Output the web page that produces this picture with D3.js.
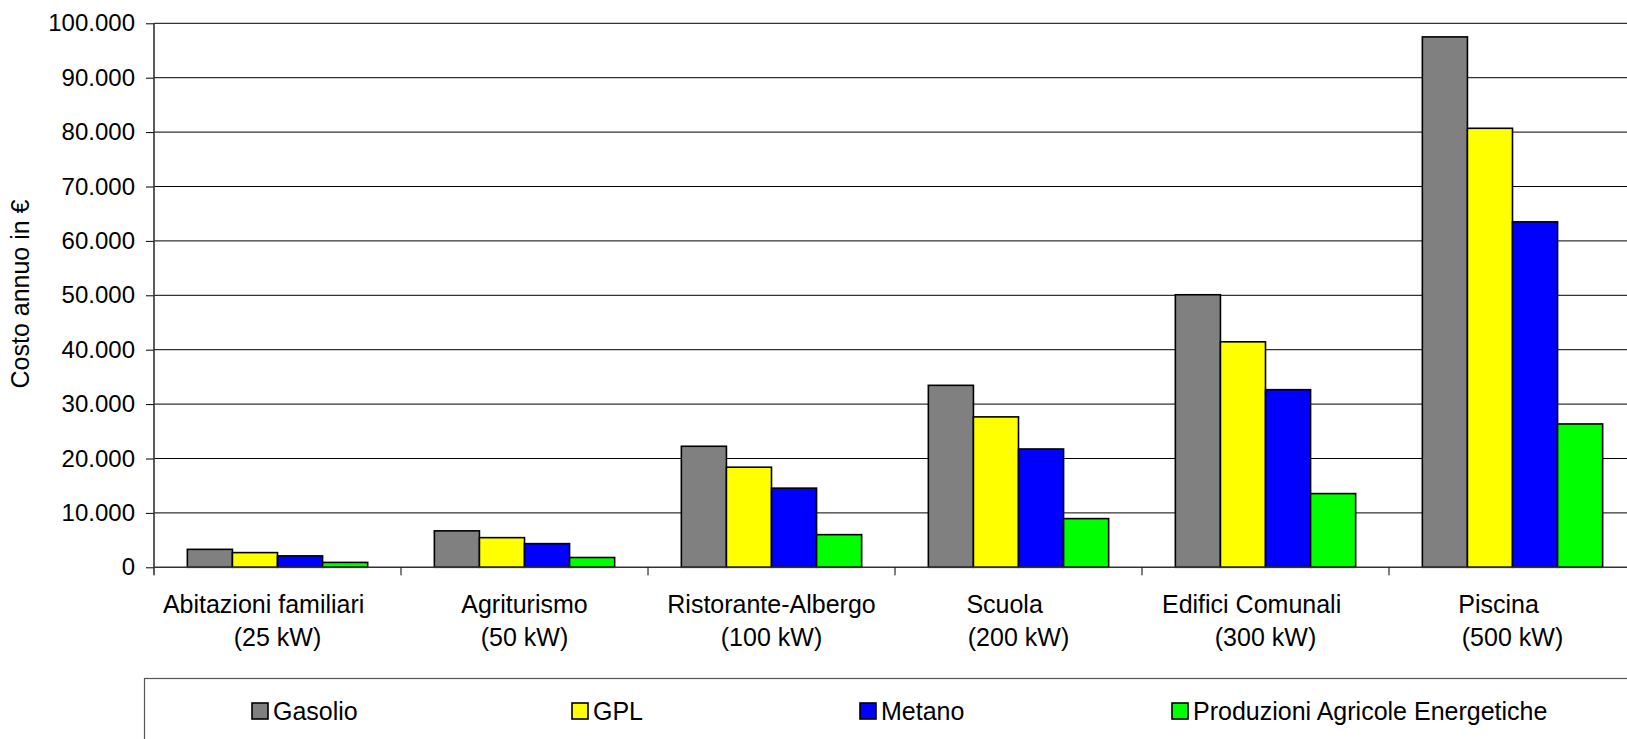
<!DOCTYPE html>
<html>
<head>
<meta charset="utf-8">
<script src="https://cdn.jsdelivr.net/npm/d3@7/dist/d3.min.js"></script>
<style>
  body { margin: 0; background: #fff; }
  svg { display: block; font-family: "Liberation Sans", Arial, sans-serif; }
</style>
</head>
<body>
<script>
// Data
const categories = ["Abitazioni familiari", "Agriturismo", "Ristorante-Albergo", "Scuola", "Edifici Comunali", "Piscina"];
const powers = ["(25 kW)", "(50 kW)", "(100 kW)", "(200 kW)", "(300 kW)", "(500 kW)"];
const seriesNames = ["Gasolio", "GPL", "Metano", "Produzioni Agricole Energetiche"];
const gasolio = [3300, 6700, 22250, 33450, 50100, 97500];
const gpl = [2700, 5450, 18400, 27650, 41450, 80700];
const metano = [2100, 4350, 14550, 21750, 32650, 63500];
const produzioni = [900, 1800, 6000, 8950, 13550, 26350];
const yTicks = [0, 10000, 20000, 30000, 40000, 50000, 60000, 70000, 80000, 90000, 100000];
const yTitle = "Costo annuo in €";

const seriesValues = [gasolio, gpl, metano, produzioni];
const colors = ["#808080", "#ffff00", "#0000ff", "#00ff00"];

const W = 1627, H = 739;
const plot = { left: 154, right: 1636, top: 23.3, bottom: 567.3 };
const tickFont = 24;
const labelFont = 25;

const svg = d3.select("body").append("svg")
    .attr("width", W)
    .attr("height", H);

svg.append("rect").attr("width", W).attr("height", H).attr("fill", "#fff");

// scales
const x0 = d3.scaleBand()
    .domain(categories)
    .range([plot.left, plot.right])
    .padding(0);

const x1 = d3.scaleBand()
    .domain(seriesNames)
    .range([0, x0.bandwidth()])
    .paddingInner(0)
    .paddingOuter(0.74);

const y = d3.scaleLinear()
    .domain([0, 100000])
    .range([plot.bottom, plot.top]);

const itFormat = d3.formatLocale({ decimal: ",", thousands: ".", grouping: [3], currency: ["€", ""] }).format(",d");

// gridlines
svg.append("g")
    .selectAll("line")
    .data(yTicks.filter(d => d > 0))
    .enter()
    .append("line")
    .attr("x1", plot.left)
    .attr("x2", W)
    .attr("y1", d => y(d))
    .attr("y2", d => y(d))
    .attr("stroke", "#000")
    .attr("stroke-width", 1);

// y axis
const yAxis = svg.append("g")
    .attr("transform", `translate(${plot.left},0)`)
    .call(d3.axisLeft(y).tickValues(yTicks).tickFormat(itFormat).tickSize(8).tickPadding(11));
yAxis.select(".domain").remove();
yAxis.selectAll(".tick line").attr("stroke", "#000");
yAxis.selectAll(".tick text")
    .attr("font-size", tickFont)
    .attr("font-family", "'Liberation Sans', Arial, sans-serif")
    .attr("fill", "#000");

// bars
const groups = svg.append("g")
    .selectAll("g")
    .data(categories)
    .enter()
    .append("g")
    .attr("transform", d => `translate(${x0(d)},0)`);

groups.selectAll("rect")
    .data((c, i) => seriesNames.map((s, j) => ({ s, j, v: seriesValues[j][i] })))
    .enter()
    .append("rect")
    .attr("x", d => x1(d.s))
    .attr("y", d => y(d.v))
    .attr("width", x1.bandwidth())
    .attr("height", d => y(0) - y(d.v))
    .attr("fill", d => colors[d.j])
    .attr("stroke", "#000")
    .attr("stroke-width", 1.6);

// axis lines
svg.append("line")
    .attr("x1", plot.left).attr("x2", plot.left)
    .attr("y1", plot.top).attr("y2", plot.bottom + 8)
    .attr("stroke", "#333").attr("stroke-width", 1.6);
svg.append("line")
    .attr("x1", plot.left).attr("x2", W)
    .attr("y1", plot.bottom).attr("y2", plot.bottom)
    .attr("stroke", "#333").attr("stroke-width", 1.6);

// x ticks at category boundaries
svg.append("g")
    .selectAll("line")
    .data(categories.slice(1))
    .enter()
    .append("line")
    .attr("x1", d => x0(d)).attr("x2", d => x0(d))
    .attr("y1", plot.bottom).attr("y2", plot.bottom + 8)
    .attr("stroke", "#000").attr("stroke-width", 1);

// category labels (first line carries trailing spaces like the original)
const trailing = [4, 0, 0, 4, 4, 4];
const labels = svg.append("g")
    .selectAll("text")
    .data(categories)
    .enter()
    .append("text")
    .attr("text-anchor", "middle")
    .attr("font-size", labelFont)
    .attr("fill", "#000");
labels.append("tspan")
    .attr("x", d => x0(d) + x0.bandwidth() / 2)
    .attr("y", 613)
    .text((d, i) => d + "\u00a0".repeat(trailing[i]));
labels.append("tspan")
    .attr("x", d => x0(d) + x0.bandwidth() / 2)
    .attr("y", 646)
    .text((d, i) => powers[i]);

// y axis title
svg.append("text")
    .attr("transform", "translate(29,294) rotate(-90)")
    .attr("text-anchor", "middle")
    .attr("font-size", labelFont)
    .attr("fill", "#000")
    .text(yTitle);

// legend
svg.append("rect")
    .attr("x", 144.5).attr("y", 678.5)
    .attr("width", 1600).attr("height", 120)
    .attr("fill", "#fff")
    .attr("stroke", "#555").attr("stroke-width", 1.2);

const legendX = [252, 572, 860, 1172];
const items = svg.append("g")
    .selectAll("g")
    .data(seriesNames)
    .enter()
    .append("g")
    .attr("transform", (d, i) => `translate(${legendX[i]},703)`);
items.append("rect")
    .attr("width", 16).attr("height", 16)
    .attr("fill", (d, i) => colors[i])
    .attr("stroke", "#000").attr("stroke-width", 1.6);
items.append("text")
    .attr("x", 21)
    .attr("y", 16.5)
    .attr("font-size", labelFont)
    .attr("fill", "#000")
    .text(d => d);
</script>
</body>
</html>
